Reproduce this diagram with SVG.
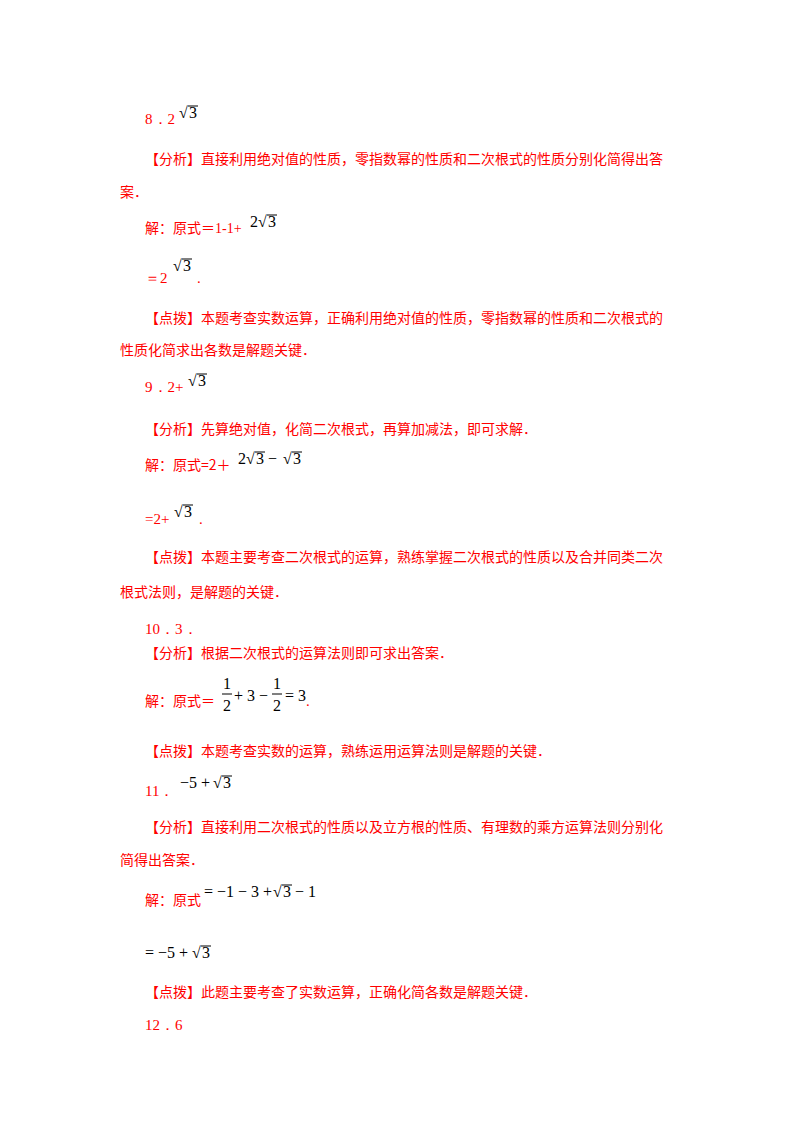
<svg xmlns="http://www.w3.org/2000/svg" width="800" height="1132" viewBox="0 0 800 1132">
<style>
.t{font-family:"Noto Sans CJK SC","Liberation Serif",serif;font-size:14px;fill:#ff0000}
.m{font-family:"Liberation Serif",serif;font-size:16px;fill:#000}
.r{font-family:"Liberation Serif",serif;font-size:15px;fill:#ff0000}
.v{stroke:#000;stroke-width:1}
</style>
<rect width="800" height="1132" fill="#fff"/>
<text class="r" x="145" y="124">8．2</text>
<text class="m" x="179" y="118">√</text><line class="v" x1="188" y1="106" x2="198" y2="106"/><text class="m" x="189" y="118">3</text>
<text class="t" x="145" y="164">【分析】直接利用绝对值的性质，零指数幂的性质和二次根式的性质分别化简得出答</text>
<text class="t" x="120" y="197">案．</text>
<text class="t" x="145" y="233">解：原式＝<tspan font-family="Liberation Serif">1-1+</tspan></text>
<text class="m" x="250" y="227">2√</text><line class="v" x1="267" y1="215" x2="277" y2="215"/><text class="m" x="268" y="227">3</text>
<text class="r" x="145" y="283">＝2</text>
<text class="m" x="173" y="271">√</text><line class="v" x1="182" y1="259" x2="192" y2="259"/><text class="m" x="183" y="271">3</text>
<text class="r" x="197" y="283">.</text>
<text class="t" x="145" y="323">【点拨】本题考查实数运算，正确利用绝对值的性质，零指数幂的性质和二次根式的</text>
<text class="t" x="120" y="355">性质化简求出各数是解题关键．</text>
<text class="r" x="145" y="392">9．2+</text>
<text class="m" x="188" y="386">√</text><line class="v" x1="197" y1="374" x2="207" y2="374"/><text class="m" x="198" y="386">3</text>
<text class="t" x="145" y="434">【分析】先算绝对值，化简二次根式，再算加减法，即可求解．</text>
<text class="t" x="145" y="470">解：原式=2＋</text>
<text class="m" x="238" y="464">2√</text><line class="v" x1="255" y1="452" x2="265" y2="452"/><text class="m" x="256" y="464">3 −</text>
<text class="m" x="283" y="464">√</text><line class="v" x1="292" y1="452" x2="302" y2="452"/><text class="m" x="293" y="464">3</text>
<text class="r" x="145" y="524">=2+</text>
<text class="m" x="174" y="517">√</text><line class="v" x1="183" y1="505" x2="193" y2="505"/><text class="m" x="184" y="517">3</text>
<text class="r" x="199" y="524">.</text>
<text class="t" x="145" y="562">【点拨】本题主要考查二次根式的运算，熟练掌握二次根式的性质以及合并同类二次</text>
<text class="t" x="120" y="597">根式法则，是解题的关键．</text>
<text class="r" x="145" y="634">10．3．</text>
<text class="t" x="145" y="658">【分析】根据二次根式的运算法则即可求出答案．</text>
<text class="t" x="145" y="706">解：原式＝</text>
<text class="m" x="223" y="689">1</text><line class="v" x1="222" y1="694" x2="232" y2="694"/><text class="m" x="223" y="711">2</text>
<text class="m" x="234" y="701">+ 3 −</text>
<text class="m" x="273" y="689">1</text><line class="v" x1="272" y1="694" x2="282" y2="694"/><text class="m" x="273" y="711">2</text>
<text class="m" x="285" y="701">= 3</text>
<text class="r" x="306" y="706">.</text>
<text class="t" x="145" y="756">【点拨】本题考查实数的运算，熟练运用运算法则是解题的关键．</text>
<text class="r" x="145" y="796">11．</text>
<text class="m" x="180" y="788">−5 +</text>
<text class="m" x="213" y="788">√</text><line class="v" x1="222" y1="776" x2="232" y2="776"/><text class="m" x="223" y="788">3</text>
<text class="t" x="145" y="832">【分析】直接利用二次根式的性质以及立方根的性质、有理数的乘方运算法则分别化</text>
<text class="t" x="120" y="865">简得出答案．</text>
<text class="t" x="145" y="905">解：原式</text>
<text class="m" x="204" y="897">= −1 − 3 +</text>
<text class="m" x="273" y="897">√</text><line class="v" x1="282" y1="885" x2="292" y2="885"/><text class="m" x="283" y="897">3 − 1</text>
<text class="m" x="145" y="958">= −5 +</text>
<text class="m" x="192" y="958">√</text><line class="v" x1="201" y1="946" x2="211" y2="946"/><text class="m" x="202" y="958">3</text>
<text class="t" x="145" y="997">【点拨】此题主要考查了实数运算，正确化简各数是解题关键．</text>
<text class="r" x="145" y="1030">12．6</text>
</svg>
